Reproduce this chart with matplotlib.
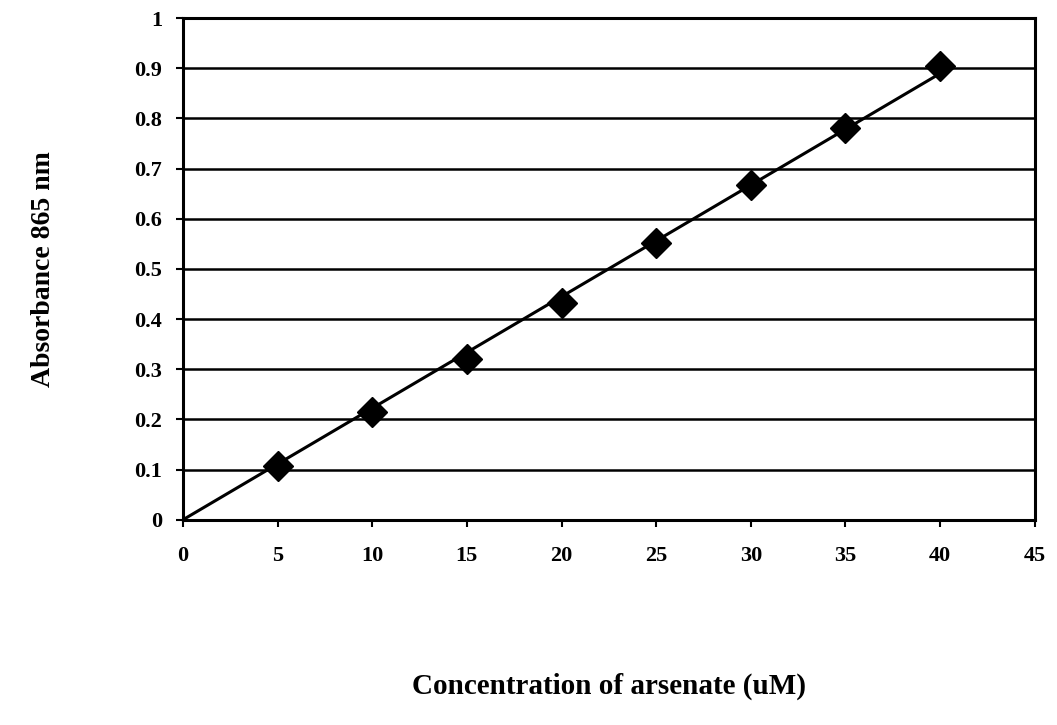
import numpy as np
import matplotlib
matplotlib.use("Agg")
import matplotlib.pyplot as plt

# arsenate standard curve
conc = [5, 10, 15, 20, 25, 30, 35, 40]
absorb = [0.107, 0.215, 0.320, 0.432, 0.551, 0.668, 0.780, 0.905]

plt.rcParams['font.family'] = 'Liberation Serif'
plt.rcParams['font.weight'] = 'bold'

fig = plt.figure(figsize=(10.57, 7.25), dpi=100)
ax = fig.add_axes([0.173, 0.283, 0.806, 0.692])

# linear trendline through origin
x = np.array(conc)
y = np.array(absorb)
slope = (x * y).sum() / (x * x).sum()
xs = np.array([0, x.max()])
ax.plot(xs, slope * xs, color='black', lw=2.2, zorder=2)
ax.plot(conc, absorb, 'D', color='black', markersize=15, zorder=3)

ax.set_xlim(0, 45)
ax.set_ylim(0, 1)
ax.set_xticks(np.arange(0, 46, 5))
ax.set_yticks(np.arange(0, 1.01, 0.1))
ax.set_yticklabels(['0', '0.1', '0.2', '0.3', '0.4', '0.5', '0.6', '0.7', '0.8', '0.9', '1'])
ax.yaxis.grid(True, color='black', lw=1.8)
ax.set_axisbelow(True)
for s in ax.spines.values():
    s.set_linewidth(2.2)
ax.tick_params(direction='out', length=5, width=1.5, labelsize=16)
ax.tick_params(axis='x', pad=14)
ax.tick_params(axis='y', pad=10)
for lab in ax.get_xticklabels() + ax.get_yticklabels():
    lab.set_fontweight('bold')

ax.set_xlabel('Concentration of arsenate (uM)', fontsize=21, fontweight='bold', labelpad=77)
ax.set_ylabel('Absorbance 865 nm', fontsize=20, fontweight='bold', labelpad=56)

fig.savefig('out.png', dpi=100)
